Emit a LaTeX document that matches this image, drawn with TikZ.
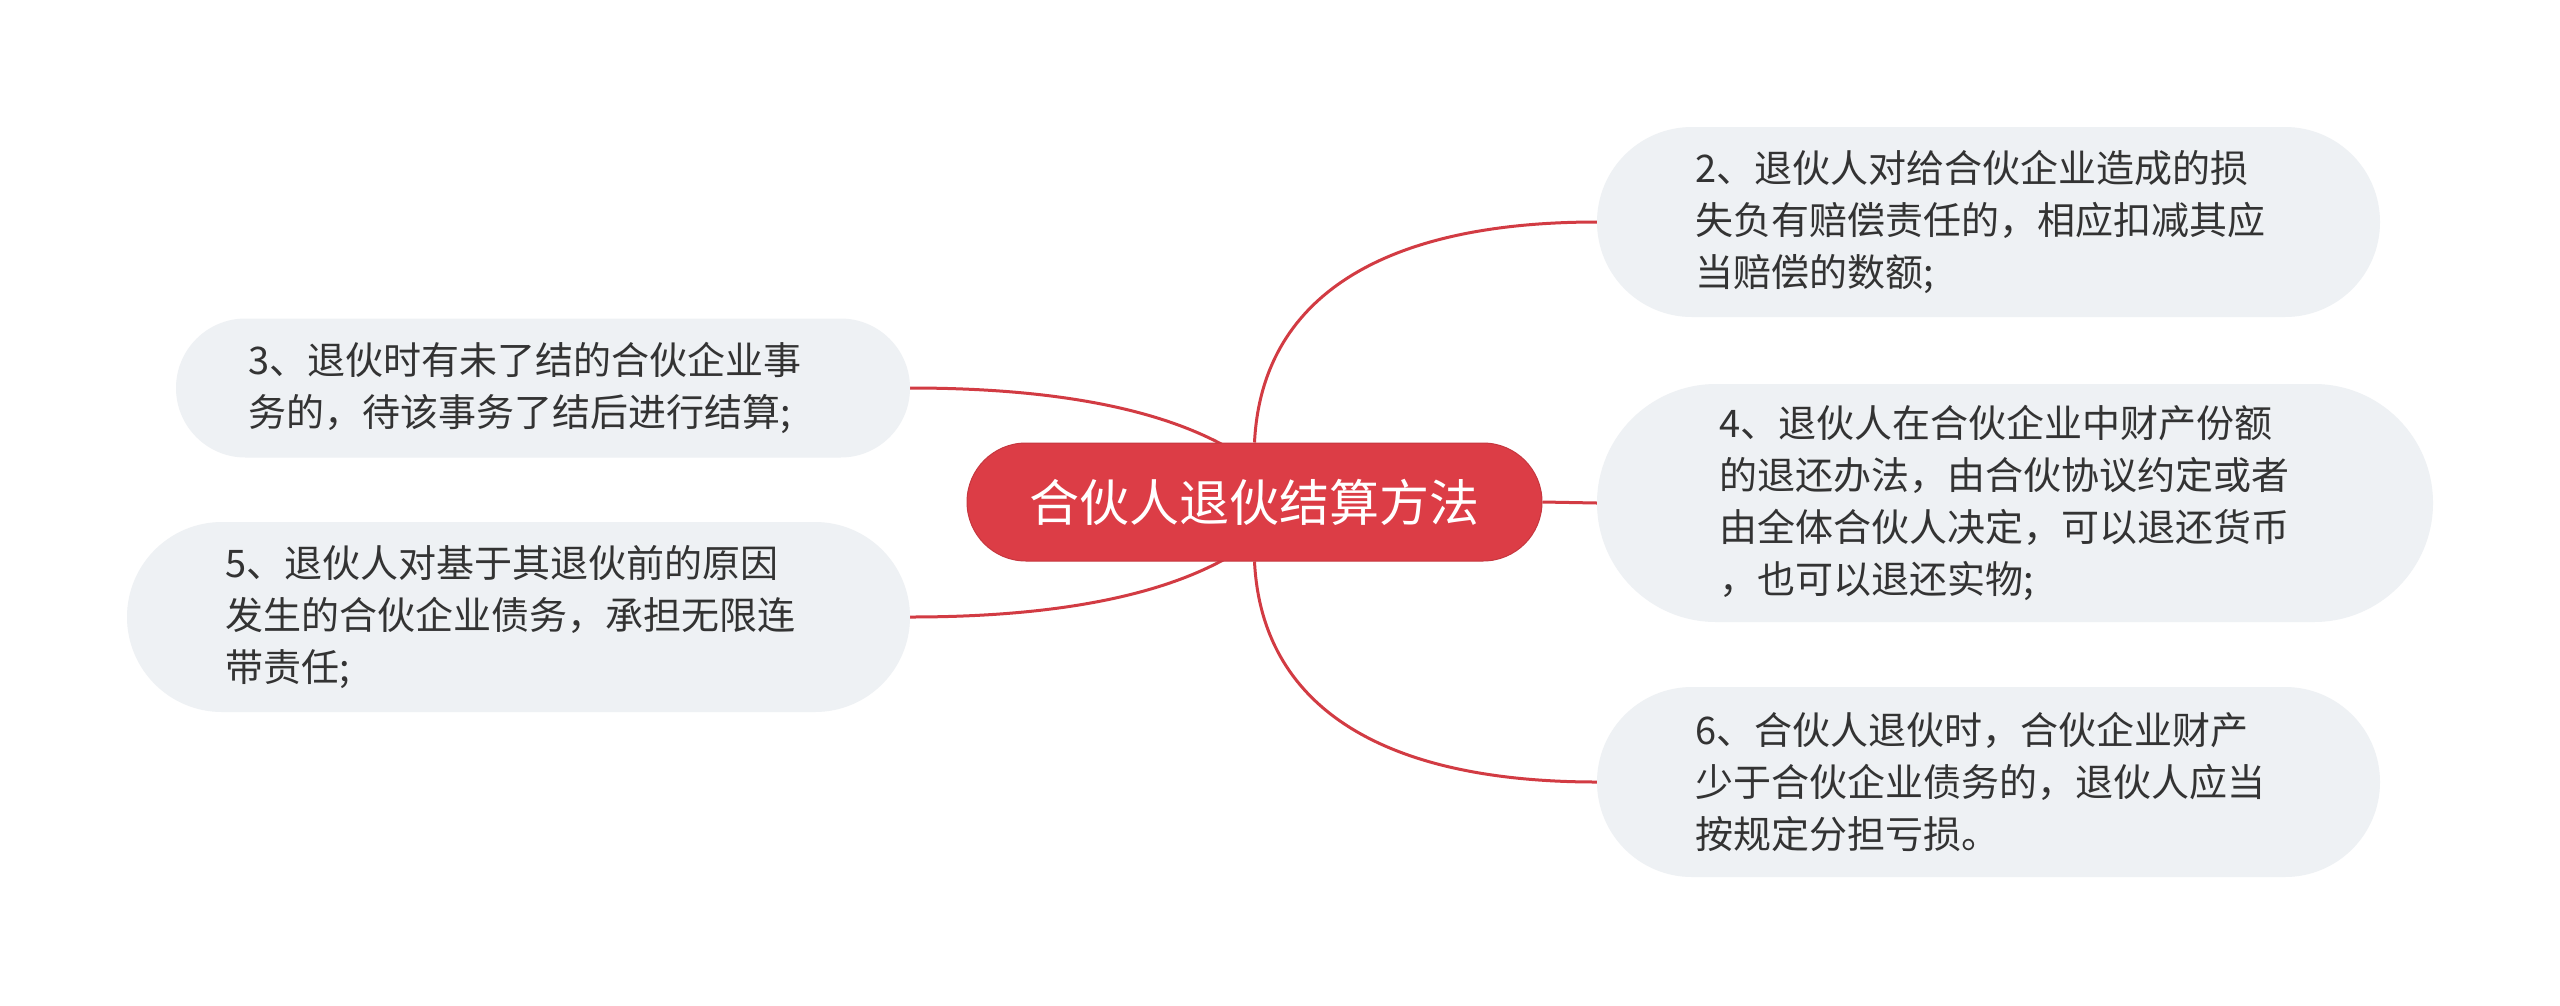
\documentclass[tikz,border=0pt]{standalone}
\usepackage{fontspec}
\setmainfont{Noto Sans CJK SC}
\usetikzlibrary{backgrounds}
\pgfdeclarelayer{bottom}
\pgfsetlayers{bottom,background,main}
\definecolor{boxgray}{HTML}{EEF1F4}
\definecolor{linered}{HTML}{D23B43}
\definecolor{centerred}{HTML}{DC3D46}
\definecolor{txtgray}{HTML}{333333}
\tikzset{
  leafbox/.style={rectangle, fill=boxgray, inner ysep=0pt, align=left,
    text=txtgray, font=\fontsize{38}{52}\selectfont},
  centerbox/.style={rectangle, fill=centerred, draw=centerred!90!black, line width=1pt,
    rounded corners=59pt, minimum width=575pt, minimum height=118pt,
    text=white, font=\fontsize{50}{60}\selectfont, inner sep=0pt},
  conn/.style={draw=linered, line width=3pt}
}
\begin{document}
\begin{tikzpicture}[x=1pt,y=-1pt]
\useasboundingbox (0,0) rectangle (2560,1005);
\begin{pgfonlayer}{bottom}
\fill[white] (0,0) rectangle (2560,1005);
\end{pgfonlayer}

\node[centerbox] (c) at (1254.5,502) {合伙人退伙结算方法};

\node[leafbox, rounded corners=95pt, minimum height=190pt, inner xsep=98pt, text width=587pt]
  (n2) at (1988.5,222) {2、退伙人对给合伙企业造成的损\\失负有赔偿责任的，相应扣减其应\\当赔偿的数额;};
\node[leafbox, rounded corners=119pt, minimum height=238pt, inner xsep=122pt, text width=592pt]
  (n4) at (2015,503) {4、退伙人在合伙企业中财产份额\\的退还办法，由合伙协议约定或者\\由全体合伙人决定，可以退还货币\\，也可以退还实物;};
\node[leafbox, rounded corners=95pt, minimum height=190pt, inner xsep=98pt, text width=587pt]
  (n6) at (1988.5,782) {6、合伙人退伙时，合伙企业财产\\少于合伙企业债务的，退伙人应当\\按规定分担亏损。};
\node[leafbox, rounded corners=69.5pt, minimum height=139pt, inner xsep=72pt, text width=590pt]
  (n3) at (543,388) {3、退伙时有未了结的合伙企业事\\务的，待该事务了结后进行结算;};
\node[leafbox, rounded corners=95pt, minimum height=190pt, inner xsep=98pt, text width=587pt]
  (n5) at (518.5,617) {5、退伙人对基于其退伙前的原因\\发生的合伙企业债务，承担无限连\\带责任;};

\coordinate (c3end) at (1240,455);
\coordinate (c5end) at (1240,550);

\begin{pgfonlayer}{background}
\draw[conn] (c.north) .. controls +(7,-143) and +(-218,0) .. (n2.west);
\draw[conn] (c.south) .. controls +(7,143) and +(-218,0) .. (n6.west);
\draw[conn] (c.east) -- (n4.west);
\draw[conn] (n3.east) .. controls +(148,0) and (1170,410) .. (c3end);
\draw[conn] (n5.east) .. controls +(148,0) and (1170,595) .. (c5end);
\end{pgfonlayer}
\end{tikzpicture}
\end{document}
